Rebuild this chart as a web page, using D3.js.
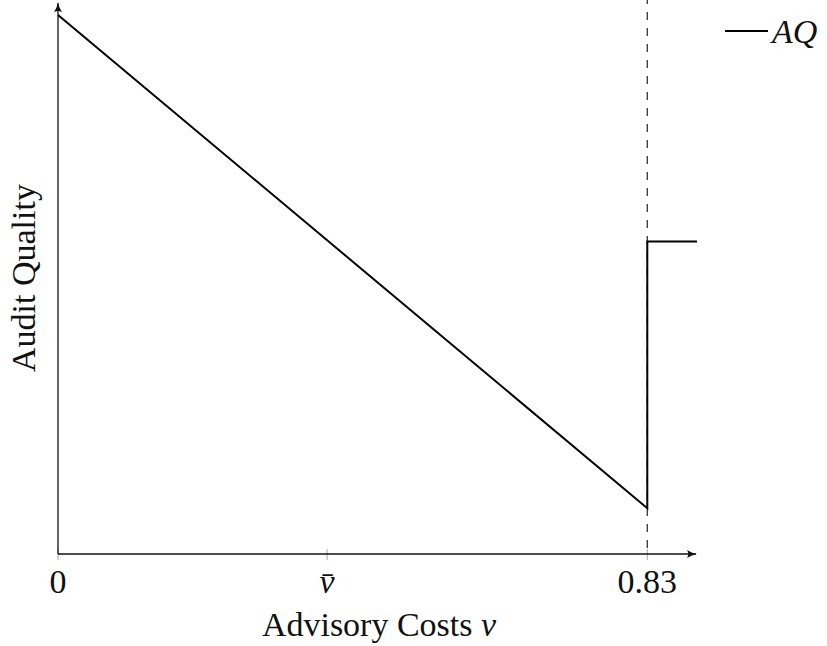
<!DOCTYPE html>
<html>
<head>
<meta charset="utf-8">
<script src="https://cdn.jsdelivr.net/npm/d3@7"></script>
<style>
  html, body { margin: 0; padding: 0; background: #fff; }
  svg { display: block; }
  text { font-family: "Liberation Serif", "DejaVu Serif", serif; fill: #111; }
</style>
</head>
<body>
<svg id="chart" width="827" height="646"></svg>
<script>
// Advisory cost points and the resulting audit quality (piecewise: falling, then a jump)
const advisoryCost = [0, 0.83, 0.83, 0.9];
const auditQuality = [1, 0.085, 0.58, 0.58];

// Threshold marked with a dashed vertical line
const threshold = 0.83;

// Tick positions and labels on the horizontal axis
const tickValues = [0, 0.379, 0.83];
const tickLabels = ["0", "v\u0304", "0.83"];

const xDomain = [0, 0.9];
const yDomain = [0, 1.02];

const svg = d3.select("#chart");

const x = d3.scaleLinear().domain(xDomain).range([58, 697]);
const y = d3.scaleLinear().domain([0, 1]).range([554, 15]);

const fontSize = 34;

// arrow heads for the axes
const defs = svg.append("defs");
defs.append("marker")
  .attr("id", "arrow")
  .attr("viewBox", "0 0 10 10")
  .attr("refX", 9).attr("refY", 5)
  .attr("markerUnits", "userSpaceOnUse")
  .attr("markerWidth", 10).attr("markerHeight", 10)
  .attr("orient", "auto")
  .append("path")
  .attr("d", "M0,1 Q5,4.2 10,5 Q5,5.8 0,9 Q2.5,5 0,1 Z")
  .attr("fill", "#111");

// dashed threshold line
svg.append("line")
  .attr("x1", x(threshold)).attr("x2", x(threshold))
  .attr("y1", 0).attr("y2", y(0) - 3)
  .attr("stroke", "#333")
  .attr("stroke-width", 1.3)
  .attr("stroke-dasharray", "8,8")
  .attr("stroke-dashoffset", 4);

// ticks (light, centred on the axis)
svg.append("g").selectAll("line")
  .data(tickValues)
  .join("line")
  .attr("x1", d => x(d)).attr("x2", d => x(d))
  .attr("y1", y(0) - 5).attr("y2", y(0) + 6)
  .attr("stroke", "#aaa")
  .attr("stroke-width", 1);

// axes
svg.append("line")
  .attr("x1", x(0)).attr("x2", x(xDomain[1]) - 1)
  .attr("y1", y(0)).attr("y2", y(0))
  .attr("stroke", "#111").attr("stroke-width", 1.3)
  .attr("marker-end", "url(#arrow)");
svg.append("line")
  .attr("x1", x(0)).attr("x2", x(0))
  .attr("y1", y(0)).attr("y2", y(yDomain[1]) - 1)
  .attr("stroke", "#111").attr("stroke-width", 1.3)
  .attr("marker-end", "url(#arrow)");

// audit quality curve
const line = d3.line()
  .x((d, i) => x(advisoryCost[i]))
  .y(d => y(d));
svg.append("path")
  .datum(auditQuality)
  .attr("d", line)
  .attr("fill", "none")
  .attr("stroke", "#000")
  .attr("stroke-width", 2)
  .attr("stroke-linejoin", "miter");

// tick labels
svg.append("g").selectAll("text")
  .data(tickValues)
  .join("text")
  .attr("x", d => x(d))
  .attr("y", 593)
  .attr("text-anchor", "middle")
  .attr("font-size", fontSize)
  .attr("font-style", (d, i) => i === 1 ? "italic" : "normal")
  .text((d, i) => tickLabels[i]);

// axis titles
const xt = svg.append("text")
  .attr("x", 379).attr("y", 636)
  .attr("text-anchor", "middle")
  .attr("font-size", fontSize);
xt.append("tspan").text("Advisory Costs ");
xt.append("tspan").attr("font-style", "italic").text("v");

svg.append("text")
  .attr("transform", "translate(35,278) rotate(-90)")
  .attr("text-anchor", "middle")
  .attr("font-size", fontSize)
  .text("Audit Quality");

// legend
svg.append("line")
  .attr("x1", 725).attr("x2", 768)
  .attr("y1", 31).attr("y2", 31)
  .attr("stroke", "#000").attr("stroke-width", 2);
svg.append("text")
  .attr("x", 772).attr("y", 43)
  .attr("font-size", fontSize)
  .attr("font-style", "italic")
  .text("AQ");
</script>
</body>
</html>
